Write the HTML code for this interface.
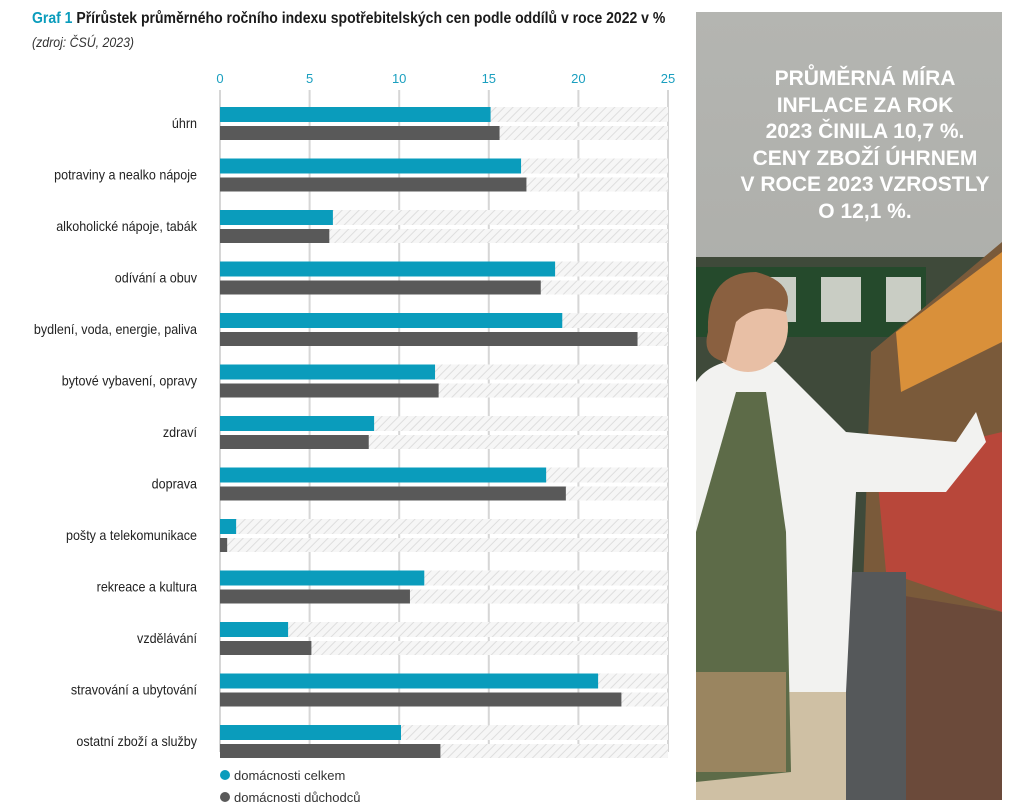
<!DOCTYPE html>
<html><head><meta charset="utf-8">
<style>
body{margin:0;background:#fff;width:1013px;height:810px;overflow:hidden;font-family:"Liberation Sans Narrow","Liberation Sans",sans-serif;}
#title{position:absolute;left:32px;top:10px;font-size:16px;font-weight:bold;color:#1a1a1a;white-space:nowrap;transform:scaleX(0.875);transform-origin:0 0;}
#title span{color:#0a9cbc}
#src{position:absolute;left:32px;top:34px;font-size:14px;font-style:italic;color:#333;transform:scaleX(0.88);transform-origin:0 0;white-space:nowrap;}
svg text{font-family:"Liberation Sans Narrow","Liberation Sans",sans-serif;}
</style></head><body>
<div id="title"><span>Graf 1</span> Přírůstek průměrného ročního indexu spotřebitelských cen podle oddílů v roce 2022 v %</div>
<div id="src">(zdroj: ČSÚ, 2023)</div>
<svg id="chart" width="1013" height="810" style="position:absolute;left:0;top:0">
<defs><pattern id="hatch" width="6" height="6" patternUnits="userSpaceOnUse" patternTransform="rotate(45)"><rect width="6" height="6" fill="#f6f6f6"/><line x1="0" y1="0" x2="0" y2="6" stroke="#dedede" stroke-width="2"/></pattern></defs>
<g id="grid"></g><g id="bars"></g><g id="labels" transform="translate(197,0) scale(0.93,1) translate(-197,0)"></g>
<g>
<circle cx="225" cy="775" r="5" fill="#0a9cbc"/>
<text x="234" y="780" font-size="13" fill="#333">domácnosti celkem</text>
<circle cx="225" cy="797" r="5" fill="#595959"/>
<text x="234" y="802" font-size="13" fill="#333">domácnosti důchodců</text>
</g>
</svg>
<svg width="306" height="788" style="position:absolute;left:696px;top:12px">
<defs>
<linearGradient id="ceil" x1="0" y1="0" x2="0" y2="1"><stop offset="0" stop-color="#b4b5b1"/><stop offset="1" stop-color="#a2a39f"/></linearGradient>
</defs>
<rect width="306" height="788" fill="url(#ceil)"/>
<rect x="0" y="245" width="306" height="543" fill="#3f4a3a"/>
<rect x="0" y="255" width="230" height="70" fill="#254a2c"/>
<rect x="60" y="265" width="40" height="45" fill="#c9cdc4"/><rect x="125" y="265" width="40" height="45" fill="#c9cdc4"/><rect x="190" y="265" width="35" height="45" fill="#c9cdc4"/>
<polygon points="175,340 306,230 306,788 160,788" fill="#7a5a3a"/>
<polygon points="200,320 306,240 306,330 205,380" fill="#d9903a"/>
<polygon points="180,450 306,420 306,600 190,560" fill="#b8473a"/>
<polygon points="185,580 306,600 306,788 190,788" fill="#6b4a3a"/>
<rect x="150" y="560" width="60" height="228" fill="#55585a"/>
<path d="M0,370 Q20,340 80,350 L150,420 L260,430 L280,400 L290,430 L250,480 L160,480 L150,680 L0,700 Z" fill="#f2f2f0"/>
<ellipse cx="52" cy="315" rx="40" ry="45" fill="#e8bfa5"/>
<path d="M12,320 Q10,260 60,260 Q100,270 90,300 Q60,290 40,310 L30,350 Q5,345 12,320Z" fill="#8a6040"/>
<rect x="0" y="680" width="150" height="108" fill="#cfc0a4"/>
<path d="M40,380 L70,380 L90,520 L95,760 L0,770 L0,520 Z" fill="#5d6b48"/>
<rect x="0" y="660" width="90" height="100" fill="#9a8560"/>
</svg>
<div style="position:absolute;left:712px;top:66px;width:306px;text-align:center;color:#fff;font-weight:bold;font-size:21px;line-height:26.5px;font-family:'Liberation Sans Narrow','Liberation Sans',sans-serif;">PRŮMĚRNÁ MÍRA<br>INFLACE ZA ROK<br>2023 ČINILA 10,7 %.<br>CENY ZBOŽÍ ÚHRNEM<br>V ROCE 2023 VZROSTLY<br>O 12,1 %.</div>
<script>
const categories=["úhrn","potraviny a nealko nápoje","alkoholické nápoje, tabák","odívání a obuv","bydlení, voda, energie, paliva","bytové vybavení, opravy","zdraví","doprava","pošty a telekomunikace","rekreace a kultura","vzdělávání","stravování a ubytování","ostatní zboží a služby"];
const totalValues=[15.1,16.8,6.3,18.7,19.1,12.0,8.6,18.2,0.9,11.4,3.8,21.1,10.1];
const pensionerValues=[15.6,17.1,6.1,17.9,23.3,12.2,8.3,19.3,0.4,10.6,5.1,22.4,12.3];
const tickValues=[0,5,10,15,20,25];
const NS="http://www.w3.org/2000/svg";
const x0=220,x1=668,vmax=25;
const xs=v=>x0+(x1-x0)*v/vmax;
const rowY=i=>107+51.5*i;
function mk(tag,attrs,parent){const e=document.createElementNS(NS,tag);for(const k in attrs)e.setAttribute(k,attrs[k]);parent.appendChild(e);return e;}
const grid=document.getElementById('grid'),bars=document.getElementById('bars'),labels=document.getElementById('labels');
tickValues.forEach(t=>{
 const l=mk('line',{x1:xs(t),x2:xs(t),y1:90,y2:752,stroke:'#d6d6d6','stroke-width':2},grid);
 
 
 const tx=mk('text',{x:xs(t),y:83,'text-anchor':'middle','font-size':13,fill:'#1a9fbf'},grid);
 tx.textContent=t;
 
 
});
categories.forEach((c,i)=>{
 const y=rowY(i);
 const h1=mk('rect',{x:x0,y:y,width:x1-x0,height:15,fill:'url(#hatch)'},bars);
 
 
 const h2=mk('rect',{x:x0,y:y+19,width:x1-x0,height:14,fill:'url(#hatch)'},bars);
 
 
 const b1=mk('rect',{x:x0,y:y,width:xs(totalValues[i])-x0,height:15,fill:'#0a9cbc'},bars);
 
 
 const b2=mk('rect',{x:x0,y:y+19,width:xs(pensionerValues[i])-x0,height:14,fill:'#595959'},bars);
 
 
 const t=mk('text',{x:197,y:y+21,'text-anchor':'end','font-size':13.5,fill:'#222'},labels);
 t.textContent=c;
 
 
});
</script>
</body></html>
